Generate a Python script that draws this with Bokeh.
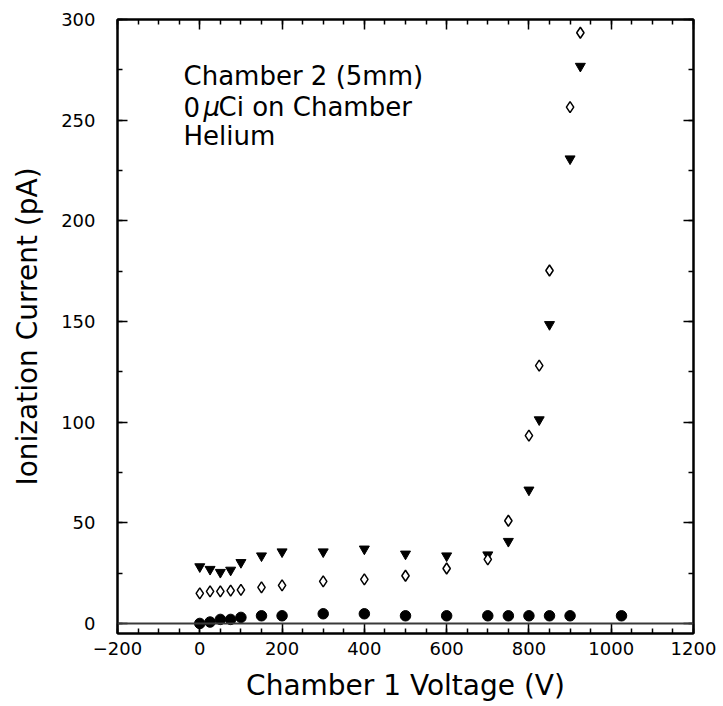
from bokeh.plotting import figure
from bokeh.models import (LinearAxis, SingleIntervalTicker, Span, Label,
                          CustomJSTickFormatter, CustomLabelingPolicy, Range1d)
from bokeh.embed import file_html
from bokeh.resources import INLINE

# ---- data ----
volt_circle = [0, 25, 50, 75, 100, 150, 200, 300, 400, 500, 600, 700, 750, 800, 850, 900, 1025]
curr_circle = [0.0, 0.7, 2.0, 2.0, 3.0, 3.8, 3.8, 4.8, 4.8, 3.8, 3.8, 3.8, 3.8, 3.8, 3.8, 3.8, 3.8]

volt_tri = [0, 25, 50, 75, 100, 150, 200, 300, 400, 500, 600, 700, 750, 800, 825, 850, 900, 925]
curr_tri = [28.2, 26.9, 25.4, 26.5, 30.3, 33.6, 35.6, 35.6, 37.0, 34.5, 33.6, 34.1, 40.8, 66.3,
            101.2, 148.5, 230.8, 276.8]

volt_dia = [0, 25, 50, 75, 100, 150, 200, 300, 400, 500, 600, 700, 750, 800, 825, 850, 900, 925]
curr_dia = [14.9, 15.9, 15.9, 16.3, 16.7, 17.9, 18.9, 20.9, 21.9, 23.7, 27.3, 31.8, 51.0, 93.3,
            128.1, 175.3, 256.5, 293.4]

x_label = "Chamber 1 Voltage (V)"
y_label = "Ionization Current (pA)"
note_lines = ["Chamber 2 (5mm)", "0", "\u03bc", "Ci on Chamber", "Helium"]

FONT = "DejaVu Sans"

p = figure(width=723, height=706, output_backend="svg", toolbar_location=None,
           x_range=Range1d(-200, 1200), y_range=Range1d(-5, 300),
           x_axis_location=None, y_axis_location=None,
           min_border_left=117, min_border_right=30, min_border_top=19, min_border_bottom=73)
p.grid.visible = False
p.outline_line_color = "black"
p.outline_line_width = 2
p.background_fill_color = "white"
p.border_fill_color = "white"

fmt = CustomJSTickFormatter(code="return tick < 0 ? '\u2212' + Math.abs(tick) : String(tick);")
no_labels = CustomLabelingPolicy(code="for (const i of Array.from(indices)) { indices.unset(i) } return indices;")


def style_axis(ax, show_labels):
    ax.major_tick_in = 10
    ax.major_tick_out = 0
    ax.minor_tick_in = 5
    ax.minor_tick_out = 0
    ax.major_tick_line_width = 1.5
    ax.minor_tick_line_width = 1.5
    ax.axis_line_width = 2
    ax.axis_line_color = "black"
    ax.major_tick_line_color = "black"
    ax.minor_tick_line_color = "black"
    if show_labels:
        ax.major_label_text_font = FONT
        ax.major_label_text_font_size = "18px"
        ax.major_label_text_color = "black"
        ax.axis_label_text_font = FONT
        ax.axis_label_text_font_size = "28px"
        ax.axis_label_text_font_style = "normal"
        ax.axis_label_text_color = "black"
    else:
        ax.major_label_policy = no_labels
        ax.major_label_standoff = 0


xb = LinearAxis(ticker=SingleIntervalTicker(interval=200, num_minor_ticks=4), formatter=fmt,
                axis_label=x_label)
style_axis(xb, True)
xb.major_label_standoff = 8
xb.axis_label_standoff = 11
p.add_layout(xb, "below")

xt = LinearAxis(ticker=SingleIntervalTicker(interval=200, num_minor_ticks=4))
style_axis(xt, False)
p.add_layout(xt, "above")

yl = LinearAxis(ticker=SingleIntervalTicker(interval=50, num_minor_ticks=2), axis_label=y_label)
style_axis(yl, True)
yl.major_label_standoff = 22
yl.axis_label_standoff = 14
p.add_layout(yl, "left")

yr = LinearAxis(ticker=SingleIntervalTicker(interval=50, num_minor_ticks=2))
style_axis(yr, False)
p.add_layout(yr, "right")

p.add_layout(Span(location=0, dimension="width", line_color="#3a3a3a", line_width=2))

p.scatter(volt_circle, curr_circle, marker="circle", size=10.5, fill_color="black", line_color="black")
p.scatter(volt_tri, curr_tri, marker="inverted_triangle", size=10, fill_color="black",
          line_color="black")
p.scatter(volt_dia, curr_dia, marker="diamond", size=11, fill_color="white", line_color="black",
          line_width=1.5)

common = dict(text_font=FONT, text_font_size="26px", text_color="black",
              x_units="screen", y_units="screen", text_baseline="alphabetic")


def sy(y_px):
    return 633 - y_px


p.add_layout(Label(x=183 - 117, y=sy(75), text=note_lines[0], **common))
p.add_layout(Label(x=183 - 117, y=sy(106), text=note_lines[1], **common))
p.add_layout(Label(x=203 - 117, y=sy(106), text=note_lines[2], text_font_style="italic", **common))
p.add_layout(Label(x=218 - 117, y=sy(106), text=note_lines[3], **common))
p.add_layout(Label(x=183 - 117, y=sy(135), text=note_lines[4], **common))

open("out.html", "w").write(file_html(p, INLINE))
